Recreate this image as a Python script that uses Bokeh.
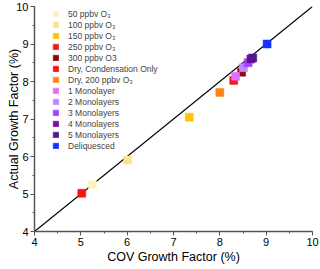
from bokeh.plotting import figure
from bokeh.models import SingleIntervalTicker, Legend, LegendItem, Range1d
from bokeh.embed import file_html
from bokeh.resources import INLINE

series_names = ["50 ppbv O₃", "100 ppbv O₃", "150 ppbv O₃", "250 ppbv O₃", "300 ppbv O3",
                "Dry, Condensation Only", "Dry, 200 ppbv O₃", "1 Monolayer", "2 Monolayers",
                "3 Monolayers", "4 Monolayers", "5 Monolayers", "Deliquesced"]
series_colors = ["#FFF0C2", "#FFE38F", "#FFC20A", "#F01C1C", "#8C0A0A",
                 "#FF1010", "#FF8418", "#E070FF", "#C286FF",
                 "#A144FF", "#78109E", "#55198F", "#1432FF"]
cov_gf = [5.25, 6.01, 7.34, 8.30, 8.47, 5.02, 8.00, 8.34, 8.51, 8.61, 8.67, 8.71, 9.02]
actual_gf = [5.25, 5.91, 7.05, 8.03, 8.25, 5.02, 7.71, 8.14, 8.37, 8.50, 8.60, 8.63, 9.00]
line_x = [4, 10]
line_y = [4, 10]
x_title = "COV Growth Factor (%)"
y_title = "Actual Growth Factor (%)"

p = figure(width=320, height=269, output_backend="svg", toolbar_location=None,
           x_range=Range1d(4, 10), y_range=Range1d(4, 10),
           min_border_left=34, min_border_right=8, min_border_top=6, min_border_bottom=38)
p.outline_line_color = None
p.grid.visible = False
p.background_fill_color = "white"

p.line(line_x, line_y, line_color="black", line_width=1.1)

items = []
for name, col, xv, yv in zip(series_names, series_colors, cov_gf, actual_gf):
    r = p.rect([xv], [yv], width=8, height=8, width_units="screen", height_units="screen",
               fill_color=col, line_color=col, line_width=0.5)
    items.append(LegendItem(label=name, renderers=[r]))

legend = Legend(items=items, location=(18, 80), padding=0, margin=0, spacing=0,
                glyph_width=7, glyph_height=7, label_height=11, label_standoff=9,
                label_text_font="Liberation Sans", label_text_font_size="8.5px",
                background_fill_alpha=0, border_line_alpha=0)
p.add_layout(legend, "center")

for ax in (p.xaxis[0], p.yaxis[0]):
    ax.ticker = SingleIntervalTicker(interval=1, num_minor_ticks=2)
    ax.axis_line_color = "#555555"
    ax.axis_line_width = 1.5
    ax.major_tick_line_color = "#555555"
    ax.minor_tick_line_color = "#555555"
    ax.major_tick_out = 4
    ax.major_tick_in = 0
    ax.minor_tick_out = 2
    ax.minor_tick_in = 0
    ax.major_label_text_font = "Liberation Sans"
    ax.major_label_text_font_size = "11px"
    ax.major_label_text_color = "black"
    ax.major_label_standoff = 2
    ax.axis_label_text_font = "Liberation Sans"
    ax.axis_label_text_font_size = "12.5px"
    ax.axis_label_text_font_style = "normal"
    ax.axis_label_text_color = "black"

p.xaxis.axis_label = x_title
p.yaxis.axis_label = y_title
p.xaxis.axis_label_standoff = 1
p.yaxis.axis_label_standoff = -8

open("out.html", "w").write(file_html(p, INLINE))
